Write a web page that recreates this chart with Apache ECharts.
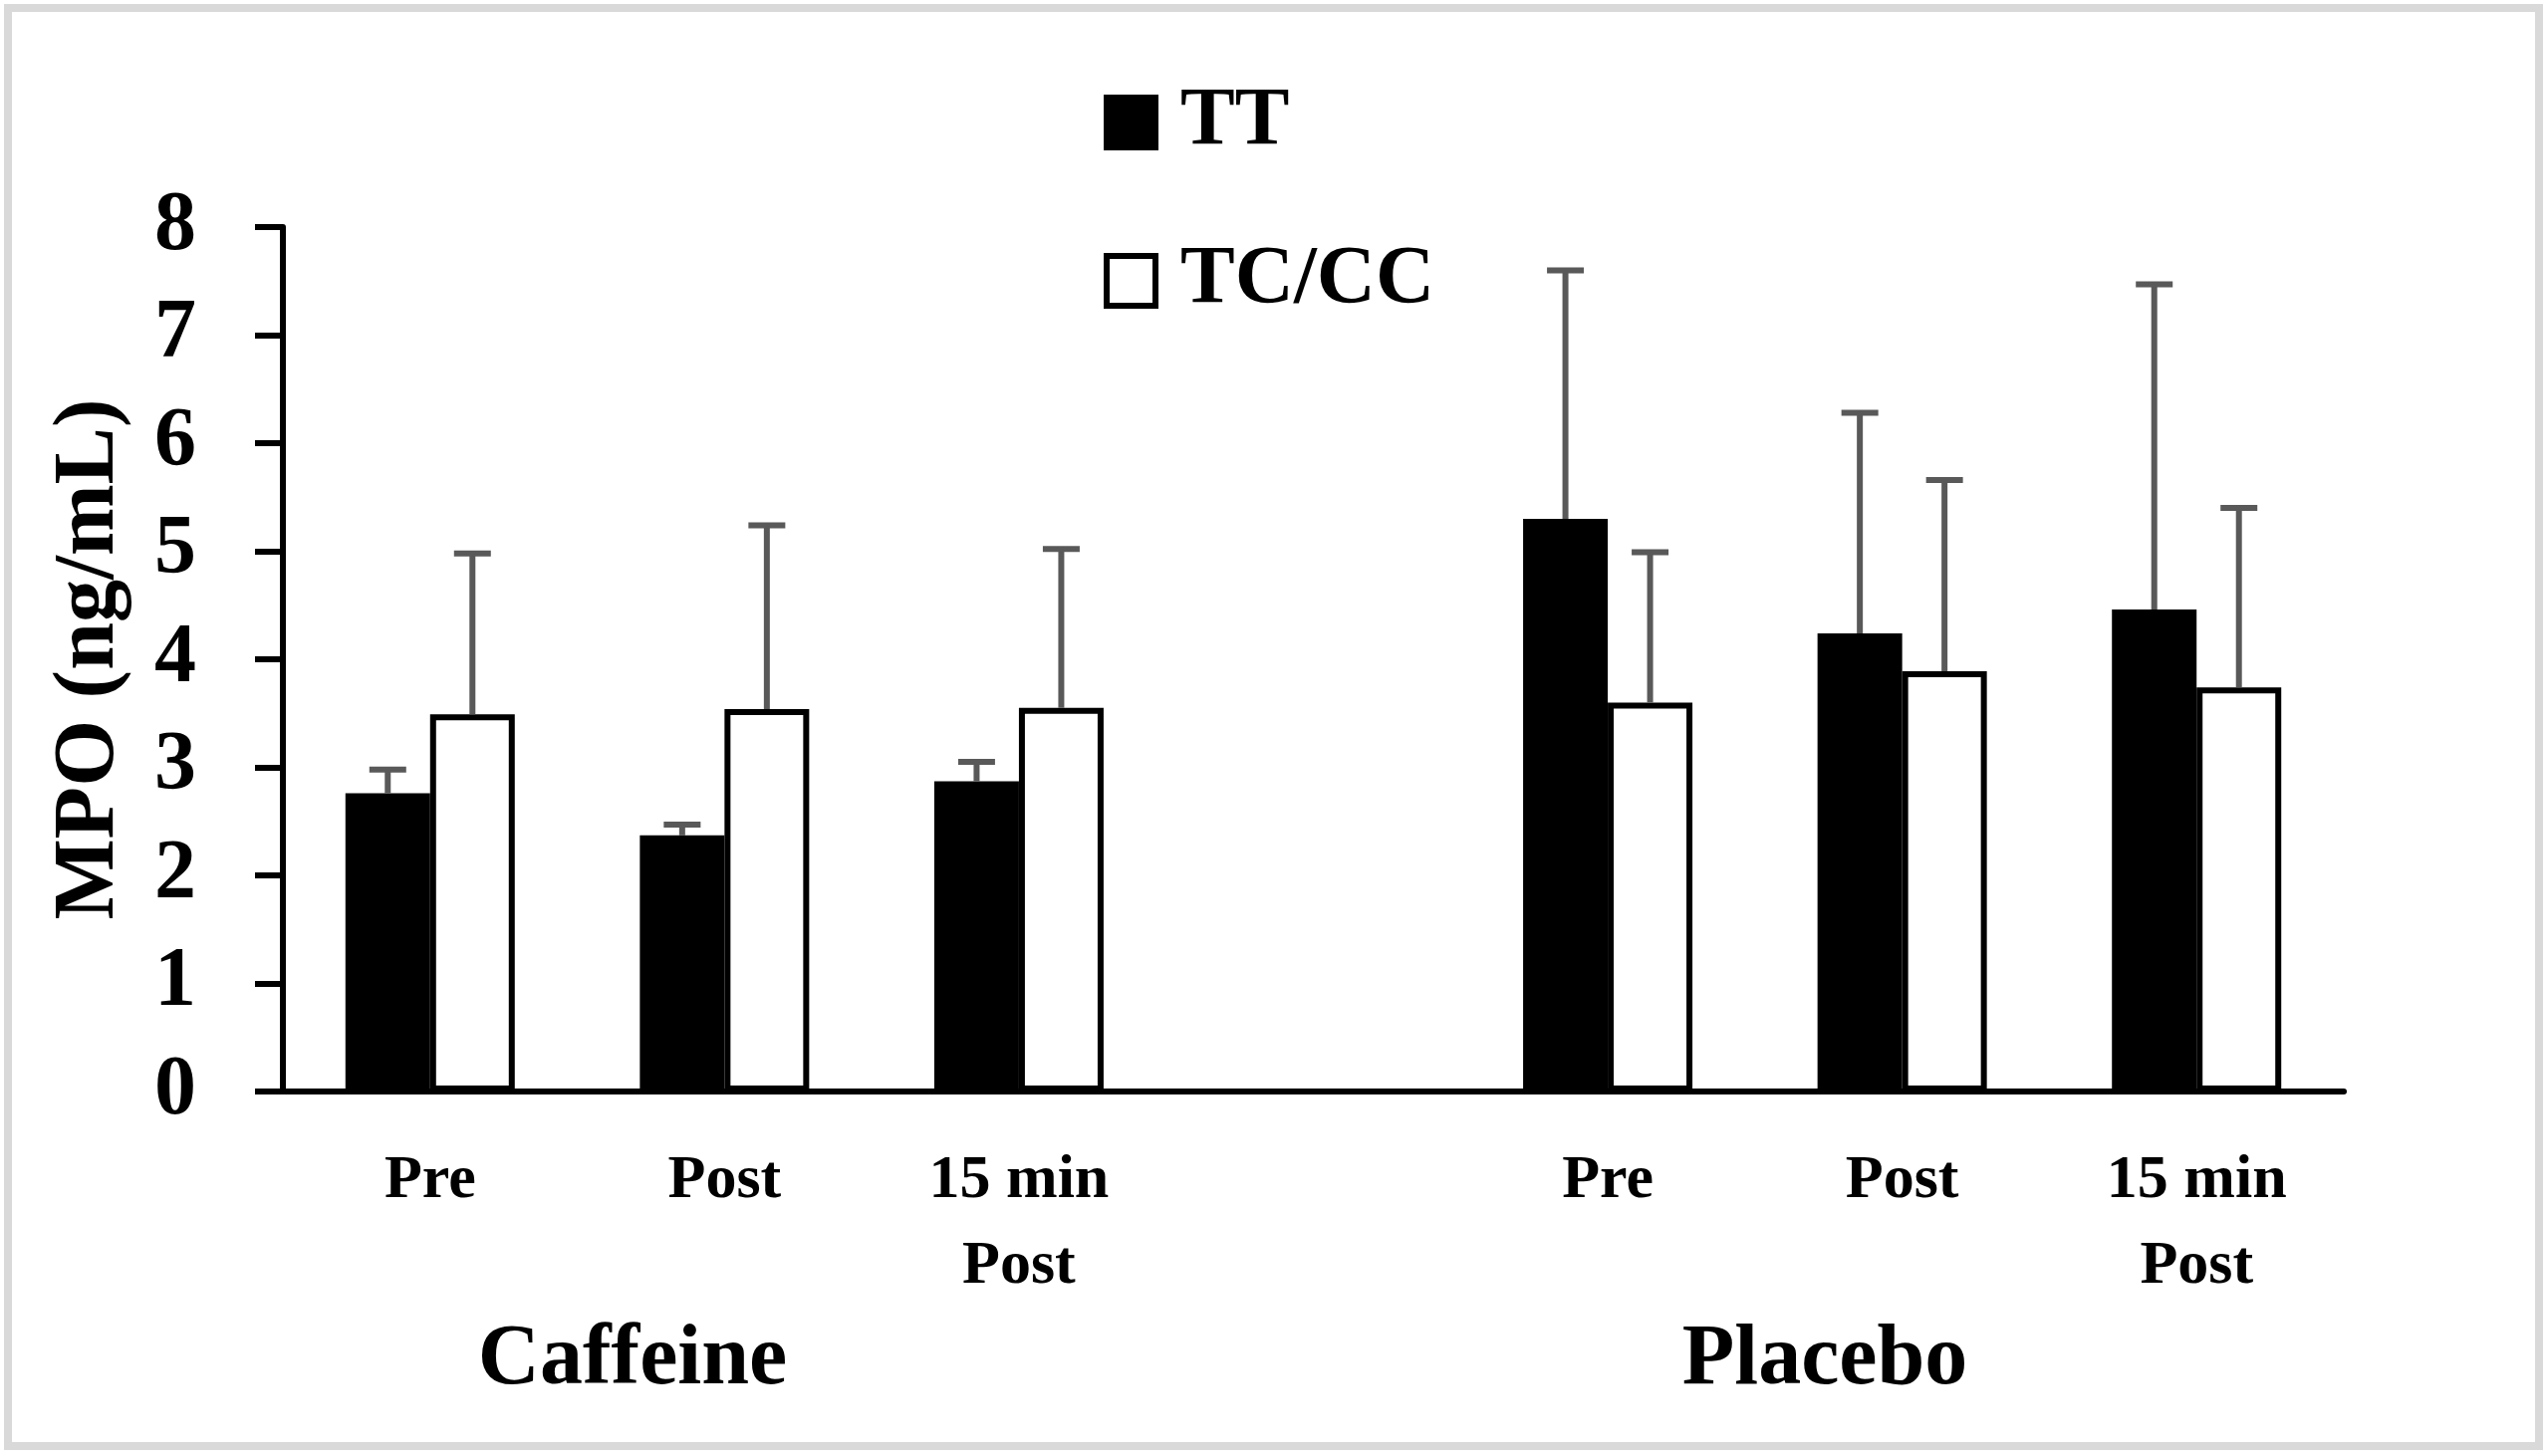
<!DOCTYPE html>
<html>
<head>
<meta charset="utf-8">
<script src="https://cdn.jsdelivr.net/npm/echarts@6/dist/echarts.min.js"></script>
<style>
html,body{margin:0;padding:0;background:#fff;}
#chart{width:2558px;height:1462px;}
</style>
</head>
<body>
<div id="chart"></div>
<script>
// ---- data ----
const categories = ['Pre', 'Post', '15 min\nPost', '', 'Pre', 'Post', '15 min\nPost'];
const groupLabels = ['Caffeine', 'Placebo'];
const seriesNames = ['TT', 'TC/CC'];
const ttMean = [2.76, 2.37, 2.87, null, 5.30, 4.24, 4.46];
const ttSD   = [0.22, 0.10, 0.18, null, 2.30, 2.04, 3.01];
const tcMean = [3.49, 3.54, 3.55, null, 3.60, 3.89, 3.74];
const tcSD   = [1.49, 1.70, 1.47, null, 1.39, 1.77, 1.66];
const yMin = 0, yMax = 8, yStep = 1;

// ---- styling constants ----
const FONT = '"Liberation Serif", "Times New Roman", serif';
const BAR_W = 85;
const ERR_COLOR = '#595959';
const CAP_W = 37;

function errData(means, sds) {
  const out = [];
  means.forEach((m, i) => { if (m != null) out.push([i, m, sds[i]]); });
  return out;
}
function errSeries(means, sds, offset) {
  return {
    type: 'custom',
    z: 5,
    silent: true,
    data: errData(means, sds),
    renderItem: function (params, api) {
      const base = api.coord([api.value(0), api.value(1)]);
      const top = api.coord([api.value(0), api.value(1) + api.value(2)]);
      const x = base[0] + offset;
      return {
        type: 'group',
        children: [
          { type: 'line', shape: { x1: x, y1: base[1], x2: x, y2: top[1] },
            style: { stroke: ERR_COLOR, lineWidth: 6 } },
          { type: 'line', shape: { x1: x - CAP_W / 2, y1: top[1], x2: x + CAP_W / 2, y2: top[1] },
            style: { stroke: ERR_COLOR, lineWidth: 6 } }
        ]
      };
    }
  };
}

const chart = echarts.init(document.getElementById('chart'));
chart.setOption({
  animation: false,
  backgroundColor: '#fff',
  grid: { left: 284, right: 205, top: 228, bottom: 366, containLabel: false },
  legend: {
    orient: 'vertical',
    left: 1103,
    top: 77,
    itemWidth: 49,
    itemHeight: 50,
    itemGap: 77,
    icon: 'rect',
    data: seriesNames,
    itemStyle: { borderColor: '#000', borderWidth: 6 },
    textStyle: { fontFamily: FONT, fontWeight: 'bold', fontSize: 82, color: '#000',
                 lineHeight: 50, padding: [0, 0, 0, 20] }
  },
  xAxis: {
    type: 'category',
    data: categories,
    axisLine: { lineStyle: { color: '#000', width: 6 } },
    axisTick: { show: false },
    axisLabel: { interval: 0, margin: 47, fontFamily: FONT, fontWeight: 'bold', fontSize: 62,
                 color: '#000', lineHeight: 86 },
    splitLine: { show: false }
  },
  yAxis: {
    type: 'value',
    min: yMin, max: yMax, interval: yStep,
    name: 'MPO (ng/mL)',
    nameLocation: 'middle',
    nameRotate: 90,
    nameGap: 150,
    nameTextStyle: { fontFamily: FONT, fontWeight: 'bold', fontSize: 86, color: '#000' },
    axisLine: { show: true, lineStyle: { color: '#000', width: 6 } },
    axisTick: { show: true, length: 28, lineStyle: { color: '#000', width: 6 } },
    axisLabel: { margin: 87, fontFamily: FONT, fontWeight: 'bold', fontSize: 84, color: '#000' },
    splitLine: { show: false }
  },
  series: [
    { name: seriesNames[0], type: 'bar', barWidth: BAR_W, barGap: '0%', data: ttMean,
      itemStyle: { color: '#000', borderWidth: 0 } },
    { name: seriesNames[1], type: 'bar', barWidth: BAR_W, barGap: '0%', data: tcMean,
      itemStyle: { color: '#fff', borderColor: '#000', borderWidth: 6 } },
    errSeries(ttMean, ttSD, -BAR_W / 2),
    errSeries(tcMean, tcSD, BAR_W / 2)
  ],
  graphic: [
    { type: 'rect', z: 0, silent: true,
      shape: { x: 8, y: 8, width: 2541, height: 1444 },
      style: { fill: 'none', stroke: '#d9d9d9', lineWidth: 8 } },
    { type: 'text', x: 635, y: 1367, silent: true,
      style: { text: groupLabels[0], fontFamily: FONT, fontWeight: 'bold', fontSize: 86,
               fill: '#000', align: 'center', verticalAlign: 'middle' } },
    { type: 'text', x: 1832, y: 1367, silent: true,
      style: { text: groupLabels[1], fontFamily: FONT, fontWeight: 'bold', fontSize: 86,
               fill: '#000', align: 'center', verticalAlign: 'middle' } }
  ]
});
</script>
</body>
</html>
